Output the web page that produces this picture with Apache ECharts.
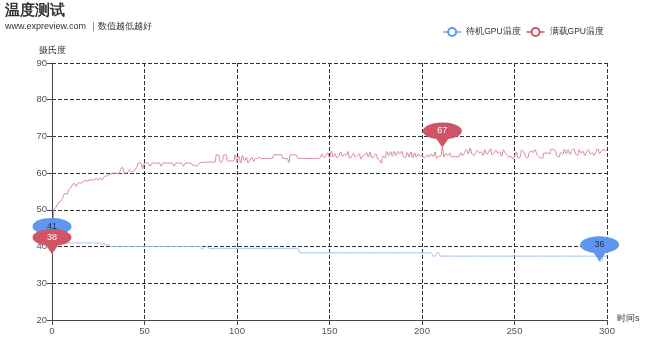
<!DOCTYPE html>
<html>
<head>
<meta charset="utf-8">
<script src="https://cdn.jsdelivr.net/npm/echarts@6/dist/echarts.min.js"></script>
<style>html,body{margin:0;padding:0;background:#fff;}#c{width:660px;height:341px;}</style>
</head>
<body>
<div id="c"></div>
<script>
var titleText = '温度测试';
var subText = 'www.expreview.com ｜数值越低越好';
var seriesNames = ['待机GPU温度', '满载GPU温度'];
var yName = '摄氏度';
var xName = '时间s';

var idleTemp = [
41,41,41,41,41,41,41,41,41,41,
41,41,41,41,41,41,41,41,41,41,
41,41,41,41,41,40.8,41,40.5,41,40.3,
40.6,40.2,40,40,40,40,40,40,40,40,
40,40,40,40,40,40,40,40,40,40,
40,40,40,40,40,40,40,40,40,40,
40,40,40,40,40,40,40,40,40,40,
40,40,40,40,40,40,40,40,40,40,
40,39.3,39.5,40,40,39.5,39.5,39.5,39.5,39.5,
39.5,39.5,39.5,39.5,39.5,39.5,39.5,39.5,39.5,39.5,
39.5,39.5,39.5,39.5,39.5,39.5,39.5,39.5,39.5,39.5,
39.5,39.5,39.5,39.5,39.5,39.5,39.5,39.5,39.5,39.5,
39.5,39.5,39.5,39.5,39.5,39.5,39.5,39.5,39.5,39.5,
39.5,39.5,39.5,39.5,38.3,38.3,38.3,38.3,38.3,38.3,
38.3,38.3,38.3,38.3,38.3,38.3,38.3,38.3,38.3,38.3,
38.3,38.3,38.3,38.3,38.3,38.3,38.3,38.3,38.3,38.3,
38.3,38.3,38.3,38.3,38.3,38.3,38.3,38.3,38.3,38.3,
38.3,38.3,38.3,38.3,38.3,38.3,38.3,38.3,38.3,38.3,
38.3,38.3,38.3,38.3,38.3,38.3,38.3,38.3,38.3,38.3,
38.3,38.3,38.3,38.3,38.3,38.3,38.3,38.3,38.3,38.3,
38.3,38.3,38.3,38.3,38.3,38.3,37.4,37.4,38.3,38.3,
37.4,37.4,37.4,37.4,37.4,37.4,37.4,37.4,37.4,37.4,
37.4,37.4,37.4,37.4,37.4,37.4,37.4,37.4,37.4,37.4,
37.4,37.4,37.4,37.4,37.4,37.4,37.4,37.4,37.4,37.4,
37.4,37.4,37.4,37.4,37.4,37.4,37.4,37.4,37.4,37.4,
37.4,37.4,37.4,37.4,37.4,37.4,37.4,37.4,37.4,37.4,
37.4,37.4,37.4,37.4,37.4,37.4,37.4,37.4,37.4,37.4,
37.4,37.4,37.4,37.4,37.4,37.4,37.4,37.4,37.4,37.4,
37.4,37.4,37.4,37.4,37.4,37.4,37.4,37.4,37.4,37.4,
37.4,37.4,37.4,37.4,37.4,37.4,36,36,37.4,37.4,
37.4
];

var loadTemp = [
38,50,50.6,51.5,52.2,52.5,53.6,54.5,54.2,55.4,
56,56.8,57.2,56.4,57.2,57.4,57.3,57.8,58,57.8,
58.1,58.2,58.1,58.3,58.5,58.2,58.6,58.2,58.9,59.2,
59.3,59.6,59.8,60,60,60,59.8,60.9,61.6,60.2,
60,60.3,60.9,60.4,60.5,61,61.8,62.8,62.8,61.2,
62.7,62.8,62.7,61.9,62.7,62.8,62.7,62.7,62.8,61.9,
62.7,62.8,62.7,62.8,62.7,62.7,61.9,62.7,62.8,62.7,
62.7,61.9,62.7,62.8,62.7,62.7,62.2,62.2,61.9,62.2,
62.8,62.9,63,63,63,63,63,63,63,65,
65,63,63.2,65,65,63.3,63.3,63.3,63.3,65,
63,64.6,62.8,64.8,63.4,64.3,62.8,63.6,64.3,63.2,
64,64,64.4,64,64,64,64,64,64,64,
65,65,65,65,65,64,64,64,62.9,65,
65,65,65,64,64,64,64,64,64,64,
64,64,64,64,64,64.3,65.2,64.3,64.6,65.5,
64.2,65.9,64.4,65.3,64.2,64.6,65.8,64.5,65.2,64.8,
65.9,64,64.6,65.4,64.3,64.8,65.2,63.8,64.6,64.9,
65.6,64.4,65.7,64.2,64.5,65.2,64.1,63.6,62.7,64.6,
64.2,65.9,64.8,65.9,64.6,66,64.8,65.9,65.2,66,
64.5,64.2,65.6,64.4,65.8,64.2,65.5,64.4,65.2,64.6,
65,64.2,64.4,65,64.4,65.2,64.5,65.8,64,64.6,
64.6,67,64.4,65.4,64.8,65.5,64.4,64.6,64.5,64.5,
64.5,65.6,64.8,65.6,66.4,65.2,66.8,65.3,64.9,65.6,
66.2,65.5,65.8,64.8,66.4,65.2,65.8,66.6,65,65.6,
66.2,65.4,65.8,64.6,66.3,65.4,65,64.4,64.6,63.9,
64.6,65.7,64.2,64.4,66.3,65.8,64.6,64.2,65.6,66,
65.6,66.4,65.3,64.5,64.2,64,65.6,65.3,65.6,65.2,
66.6,66.4,66.2,64.6,64.4,65.6,65.2,66.5,65.3,66.4,
65.1,66.2,66.6,65.3,64.8,66.4,65.4,66,64.8,65.8,
66.4,65.2,65.6,64.9,65.8,66.6,65.3,66,66.4,66.2,
66.4
];

function pairs(arr){ var out=[]; for(var i=0;i<arr.length;i++){ out.push([i, arr[i]]); } return out; }

var blue = '#6196ee';
var red = '#cf5465';
var pinPath = 'path://M50,100 L35,66.5 A50,34 0 1 1 65,66.5 Z';

function markPointCfg(color, labelColor){
  return {
    symbol: pinPath, symbolSize: [39, 25], symbolKeepAspect: false,
    symbolOffset: [0, '-50%'],
    label: {color: labelColor, fontSize: 9, offset: [0, -4]},
    itemStyle: {color: color},
    data: [{type: 'max'}, {type: 'min'}]
  };
}

var chart = echarts.init(document.getElementById('c'), null, {renderer:'canvas'});
chart.setOption({
  animation: false,
  title: {
    text: titleText, subtext: subText, left: 0, top: -2,
    textStyle: {fontSize: 15, fontWeight: 'bold', color: '#333'},
    subtextStyle: {fontSize: 9, color: '#333'},
    itemGap: 4
  },
  legend: {
    data: seriesNames, right: 51, top: 22,
    textStyle: {fontSize: 8.5, color: '#333'},
    itemWidth: 18, itemHeight: 10, itemGap: 5
  },
  grid: {left: 52, right: 53, top: 63, bottom: 21},
  xAxis: {
    type: 'value', min: 0, max: 300, interval: 50, name: xName,
    nameGap: 10, nameTextStyle: {color: '#333', fontSize: 9, verticalAlign: 'top', padding: [-6,0,0,0]},
    axisLine: {lineStyle: {color: '#444'}},
    axisTick: {show: true, lineStyle: {color: '#444'}},
    axisLabel: {color: '#555', fontSize: 9.5, margin: 6},
    splitLine: {show: true, lineStyle: {type: 'dashed', color: '#333'}}
  },
  yAxis: {
    type: 'value', min: 20, max: 90, interval: 10, name: yName,
    nameGap: 8, nameTextStyle: {color: '#333', fontSize: 9},
    axisLine: {show: true, lineStyle: {color: '#444'}},
    axisTick: {show: true, lineStyle: {color: '#444'}},
    axisLabel: {color: '#555', fontSize: 9.5, margin: 5},
    splitLine: {show: true, lineStyle: {type: 'dashed', color: '#333'}}
  },
  series: [
    {
      name: seriesNames[0], type: 'line', data: pairs(idleTemp),
      showSymbol: false, symbol: 'emptyCircle', smooth: true,
      itemStyle: {color: blue}, lineStyle: {width: 1, color: '#9dbbee'},
      markPoint: markPointCfg(blue, '#223355')
    },
    {
      name: seriesNames[1], type: 'line', data: pairs(loadTemp),
      showSymbol: false, symbol: 'emptyCircle', smooth: true,
      itemStyle: {color: red}, lineStyle: {width: 1, color: '#d7808c'},
      markPoint: markPointCfg(red, '#ffffff')
    }
  ]
});
</script>
</body>
</html>
